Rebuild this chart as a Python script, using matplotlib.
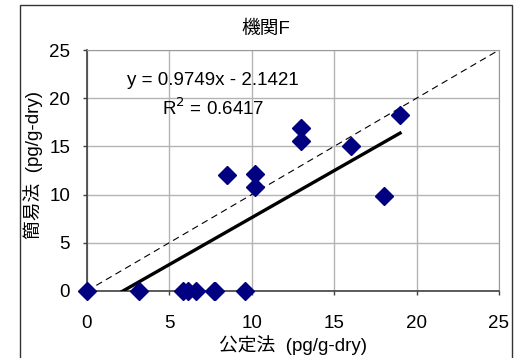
import numpy as np
import matplotlib
matplotlib.use("Agg")
import matplotlib.pyplot as plt
from matplotlib.patches import Rectangle

plt.rcParams['font.family'] = ['Liberation Sans', 'Noto Sans CJK JP']

# official method (x) vs. simple method (y), pg/g-dry
official = [0, 3.2, 5.85, 6.15, 6.6, 7.7, 7.8, 9.6, 8.5, 10.2, 10.2, 13.0, 13.0, 16.0, 18.0, 19.0]
simple = [0, 0, 0, 0, 0, 0, 0, 0, 12.0, 12.1, 10.8, 16.9, 15.6, 15.0, 9.9, 18.3]

slope = 0.9749
intercept = -2.1421
r2 = 0.6417

ticks = [0, 5, 10, 15, 20, 25]
fs = 13.5

fig = plt.figure(figsize=(5.14, 3.58), dpi=100)
ax = fig.add_axes([0.1687, 0.1872, 0.8021, 0.6731])

# outer chart border
fig.patches.append(Rectangle((20 / 514, -0.05), 492 / 514, 1.05 - 5.5 / 358,
                             transform=fig.transFigure, fill=False,
                             edgecolor='#333333', linewidth=1.0))

ax.set_xlim(0, 25)
ax.set_ylim(0, 25)
ax.set_xticks(ticks)
ax.set_yticks(ticks)
ax.grid(True, color='#b4b4b4', linewidth=1.0)
ax.set_axisbelow(True)

# 1:1 reference line
ax.plot([0, 25], [0, 25], color='black', linestyle=(0, (6, 4)), linewidth=0.8, zorder=2)

# linear trendline from the fitted equation
xs = np.array([0, max(official)])
ax.plot(xs, slope * xs + intercept, color='black', linewidth=2.4, zorder=3)

ax.plot(official, simple, linestyle='none', marker='D', markersize=9,
        color='#000080', clip_on=False, zorder=4)

for side in ['top', 'right']:
    ax.spines[side].set_color('#9a9a9a')
for side in ['left', 'bottom']:
    ax.spines[side].set_color('#404040')
    ax.spines[side].set_linewidth(1.2)

ax.tick_params(direction='out', length=3, width=1, colors='#404040',
               labelcolor='black', labelsize=fs)
ax.tick_params(axis='x', pad=14)
ax.tick_params(axis='y', pad=9)

ax.text(7.66, 21.8, f'y = {slope}x - {abs(intercept)}', fontsize=fs,
        ha='center', va='center')
ax.text(7.66, 19.0, f'R$^2$ = {r2}', fontsize=fs, ha='center', va='center')

fig.text(265.7 / 514, 1 - 29 / 358, '機関F', fontsize=fs, ha='center', va='center')
fig.text(293 / 514, 1 - 345 / 358, '公定法  (pg/g-dry)', fontsize=fs,
         ha='center', va='center')
fig.text(33 / 514, 1 - 165 / 358, '簡易法  (pg/g-dry)', fontsize=fs,
         ha='center', va='center', rotation=90)

fig.savefig('out.png', dpi=100)
